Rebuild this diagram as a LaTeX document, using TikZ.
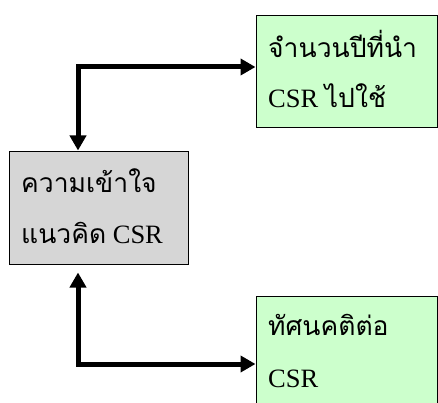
\documentclass[tikz,border=0pt]{standalone}
\usepackage{fontspec}
\setmainfont{Liberation Serif}
\newfontfamily\thaifont[Script=Thai]{Loma}
\usetikzlibrary{arrows.meta,calc}
\definecolor{boxgreen}{HTML}{CCFFCC}
\definecolor{boxgray}{HTML}{D6D6D6}
\tikzset{
  box/.style={draw=black, line width=1pt, minimum width=181pt, minimum height=112pt, inner sep=0pt},
  greenbox/.style={box, fill=boxgreen},
  graybox/.style={box, fill=boxgray, minimum width=179pt},
  txt/.style={anchor=base west, inner sep=0pt, font=\fontsize{26.5}{30}\selectfont},
  conn/.style={line width=5pt, {Triangle[width=16pt,length=15pt]}-{Triangle[width=16pt,length=15pt]}}
}
\newcommand{\thtxt}[1]{{\thaifont\fontsize{26.5}{30}\selectfont #1}}
\begin{document}
\begin{tikzpicture}[x=1pt,y=-1pt]
\useasboundingbox (0,0) rectangle (438,403);
\fill[white] (0,0) rectangle (438,403);
\node[greenbox] (top) at (346.5,72) {};
\node[graybox] (mid) at (98.5,208) {};
\node[greenbox] (bot) at (346.5,352) {};
\node[txt] (t1) at (268,58) {\thtxt{จำนวนปีที่นำ}};
\node[txt] (t2) at (268,108) {CSR \thtxt{ไปใช้}};
\node[txt] (m1) at (21,193) {\thtxt{ความเข้าใจ}};
\node[txt] (m2) at (21,243) {\thtxt{แนวคิด} CSR};
\node[txt] (b1) at (268,335) {\thtxt{ทัศนคติต่อ}};
\node[txt] (b2) at (268,387) {CSR};
\coordinate (c1) at (78,67);
\coordinate (c2) at (78,364);
\draw[conn, shorten <=1pt] (mid.north -| c1) |- (c1 -| top.west);
\draw[conn, shorten <=8pt] (mid.south -| c2) |- (c2 -| bot.west);
\end{tikzpicture}
\end{document}
